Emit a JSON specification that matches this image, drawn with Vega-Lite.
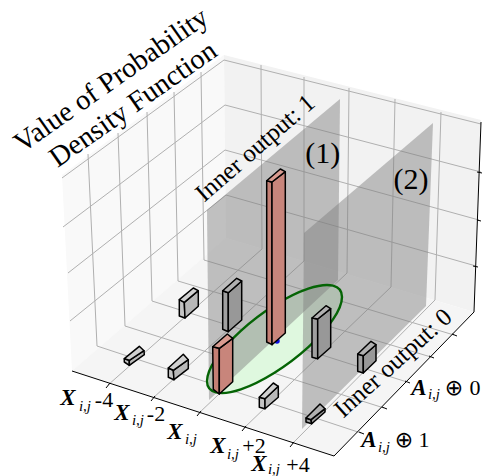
{"$schema":"https://vega.github.io/schema/vega-lite/v6.json","width":482,"height":476,"padding":0,"autosize":{"type":"none"},"background":"white","config":{"view":{"stroke":null}},
"datasets":{
"panes":[{"s":"left","n":1,"u":62,"v":175},{"s":"left","n":2,"u":224,"v":55},{"s":"left","n":3,"u":226,"v":238},{"s":"left","n":4,"u":72,"v":371},
{"s":"right","n":1,"u":224,"v":55},{"s":"right","n":2,"u":481,"v":120},{"s":"right","n":3,"u":474,"v":312},{"s":"right","n":4,"u":226,"v":238},
{"s":"floor","n":1,"u":72,"v":371},{"s":"floor","n":2,"u":226,"v":238},{"s":"floor","n":3,"u":474,"v":312},{"s":"floor","n":4,"u":334,"v":456}],
"grid":[{"s":"g1","n":1,"u":62,"v":178},{"s":"g1","n":2,"u":224,"v":60},{"s":"g2","n":1,"u":63,"v":227},{"s":"g2","n":2,"u":225,"v":105},{"s":"g3","n":1,"u":68,"v":273},{"s":"g3","n":2,"u":225,"v":150},{"s":"g4","n":1,"u":70,"v":321},{"s":"g4","n":2,"u":226,"v":195},
{"s":"g5","n":1,"u":224,"v":60},{"s":"g5","n":2,"u":481,"v":124},{"s":"g6","n":1,"u":225,"v":105},{"s":"g6","n":2,"u":481,"v":172},{"s":"g7","n":1,"u":225,"v":150},{"s":"g7","n":2,"u":479,"v":220},{"s":"g8","n":1,"u":226,"v":195},{"s":"g8","n":2,"u":476,"v":266},
{"s":"l1","n":1,"u":88,"v":154},{"s":"l1","n":2,"u":97,"v":346},{"s":"l2","n":1,"u":118,"v":133},{"s":"l2","n":2,"u":125,"v":326},{"s":"l3","n":1,"u":147,"v":112},{"s":"l3","n":2,"u":152,"v":301},{"s":"l4","n":1,"u":174,"v":92},{"s":"l4","n":2,"u":178,"v":281},{"s":"l5","n":1,"u":201,"v":72},{"s":"l5","n":2,"u":204,"v":260},
{"s":"r1","n":1,"u":261,"v":65},{"s":"r1","n":2,"u":262,"v":249},{"s":"r2","n":1,"u":304,"v":77},{"s":"r2","n":2,"u":304,"v":261},{"s":"r3","n":1,"u":349,"v":88},{"s":"r3","n":2,"u":347,"v":273},{"s":"r4","n":1,"u":395,"v":99},{"s":"r4","n":2,"u":391,"v":287},{"s":"r5","n":1,"u":441,"v":112},{"s":"r5","n":2,"u":435,"v":300},
{"s":"f1","n":1,"u":97,"v":346},{"s":"f1","n":2,"u":361,"v":433},{"s":"f2","n":1,"u":125,"v":326},{"s":"f2","n":2,"u":384,"v":408},{"s":"f3","n":1,"u":152,"v":301},{"s":"f3","n":2,"u":407,"v":382},{"s":"f4","n":1,"u":178,"v":281},{"s":"f4","n":2,"u":431,"v":357},{"s":"f5","n":1,"u":204,"v":260},{"s":"f5","n":2,"u":454,"v":335},
{"s":"h1","n":1,"u":108,"v":385},{"s":"h1","n":2,"u":262,"v":249},{"s":"h2","n":1,"u":153,"v":398},{"s":"h2","n":2,"u":304,"v":261},{"s":"h3","n":1,"u":199,"v":413},{"s":"h3","n":2,"u":347,"v":273},{"s":"h4","n":1,"u":244,"v":428},{"s":"h4","n":2,"u":391,"v":287},{"s":"h5","n":1,"u":292,"v":444},{"s":"h5","n":2,"u":435,"v":300}],
"axes":[{"s":"a1","n":1,"u":72,"v":371},{"s":"a1","n":2,"u":334,"v":456},{"s":"a1","n":3,"u":474,"v":312},{"s":"a1","n":4,"u":481,"v":122},
{"s":"t1","n":1,"u":110,"v":383},{"s":"t1","n":2,"u":106,"v":388},{"s":"t2","n":1,"u":155,"v":396},{"s":"t2","n":2,"u":151,"v":401},{"s":"t3","n":1,"u":201,"v":411},{"s":"t3","n":2,"u":197,"v":416},{"s":"t4","n":1,"u":246,"v":426},{"s":"t4","n":2,"u":242,"v":431},{"s":"t5","n":1,"u":294,"v":442},{"s":"t5","n":2,"u":290,"v":447},
{"s":"t6","n":1,"u":359,"v":432},{"s":"t6","n":2,"u":364,"v":434},{"s":"t7","n":1,"u":382,"v":407},{"s":"t7","n":2,"u":387,"v":409},{"s":"t8","n":1,"u":405,"v":381},{"s":"t8","n":2,"u":410,"v":383},{"s":"t9","n":1,"u":429,"v":356},{"s":"t9","n":2,"u":434,"v":358},{"s":"t10","n":1,"u":452,"v":334},{"s":"t10","n":2,"u":457,"v":336},
{"s":"t11","n":1,"u":477,"v":172},{"s":"t11","n":2,"u":482,"v":173},{"s":"t12","n":1,"u":477,"v":220},{"s":"t12","n":2,"u":481,"v":221},{"s":"t13","n":1,"u":473,"v":266},{"s":"t13","n":2,"u":478,"v":267}],
"planes":[{"s":"p1","n":1,"u":207,"v":210},{"s":"p1","n":2,"u":340,"v":99},{"s":"p1","n":3,"u":338,"v":280},{"s":"p1","n":4,"u":209,"v":400},
{"s":"p2","n":1,"u":304,"v":233},{"s":"p2","n":2,"u":433,"v":123},{"s":"p2","n":3,"u":426,"v":306},{"s":"p2","n":4,"u":302,"v":429}],
"ellipse":[{"n":1,"u":342,"v":296.9},{"n":2,"u":333,"v":319.4},{"n":3,"u":308.3,"v":347.2},{"n":4,"u":274.5,"v":372.8},{"n":5,"u":240.8,"v":389.4},{"n":6,"u":216,"v":392.4},{"n":7,"u":207,"v":381.1},{"n":8,"u":216,"v":358.6},{"n":9,"u":240.8,"v":330.8},{"n":10,"u":274.5,"v":305.2},{"n":11,"u":308.3,"v":288.6},{"n":12,"u":333,"v":285.6}],
"center":[{"u":277,"v":341}],
"bars":[
{"s":"A1","p":"lightLeft","n":1,"u":124.3,"v":358.7},{"s":"A1","p":"lightLeft","n":2,"u":129.3,"v":360.3},{"s":"A1","p":"lightLeft","n":3,"u":129.3,"v":365.3},{"s":"A1","p":"lightLeft","n":4,"u":124.3,"v":362},
{"s":"A2","p":"lightRight","n":1,"u":129.3,"v":360.3},{"s":"A2","p":"lightRight","n":2,"u":144,"v":350.7},{"s":"A2","p":"lightRight","n":3,"u":144.3,"v":354.7},{"s":"A2","p":"lightRight","n":4,"u":129.3,"v":365.3},
{"s":"A3","p":"lightTop","n":1,"u":124.3,"v":358.7},{"s":"A3","p":"lightTop","n":2,"u":129.3,"v":360.3},{"s":"A3","p":"lightTop","n":3,"u":144,"v":350.7},{"s":"A3","p":"lightTop","n":4,"u":139.3,"v":346.3},
{"s":"B1","p":"lightLeft","n":1,"u":168.3,"v":368},{"s":"B1","p":"lightLeft","n":2,"u":173.3,"v":370.3},{"s":"B1","p":"lightLeft","n":3,"u":174,"v":379.7},{"s":"B1","p":"lightLeft","n":4,"u":168.3,"v":377.3},
{"s":"B2","p":"lightRight","n":1,"u":173.3,"v":370.3},{"s":"B2","p":"lightRight","n":2,"u":188.3,"v":359.7},{"s":"B2","p":"lightRight","n":3,"u":188.3,"v":368.7},{"s":"B2","p":"lightRight","n":4,"u":174,"v":379.7},
{"s":"B3","p":"lightTop","n":1,"u":168.3,"v":368},{"s":"B3","p":"lightTop","n":2,"u":173.3,"v":370.3},{"s":"B3","p":"lightTop","n":3,"u":188.3,"v":359.7},{"s":"B3","p":"lightTop","n":4,"u":183.3,"v":354.3},
{"s":"C1","p":"lightLeft","n":1,"u":179.3,"v":299.7},{"s":"C1","p":"lightLeft","n":2,"u":184.3,"v":302.3},{"s":"C1","p":"lightLeft","n":3,"u":185,"v":318},{"s":"C1","p":"lightLeft","n":4,"u":179.3,"v":316},
{"s":"C2","p":"lightRight","n":1,"u":184.3,"v":302.3},{"s":"C2","p":"lightRight","n":2,"u":198.3,"v":290.7},{"s":"C2","p":"lightRight","n":3,"u":198.3,"v":306.3},{"s":"C2","p":"lightRight","n":4,"u":185,"v":318},
{"s":"C3","p":"lightTop","n":1,"u":179.3,"v":299.7},{"s":"C3","p":"lightTop","n":2,"u":184.3,"v":302.3},{"s":"C3","p":"lightTop","n":3,"u":198.3,"v":290.7},{"s":"C3","p":"lightTop","n":4,"u":193.3,"v":288},
{"s":"D1","p":"darkLeft","n":1,"u":222.7,"v":290.7},{"s":"D1","p":"darkLeft","n":2,"u":228.3,"v":292.7},{"s":"D1","p":"darkLeft","n":3,"u":228.3,"v":331.7},{"s":"D1","p":"darkLeft","n":4,"u":222.7,"v":329.3},
{"s":"D2","p":"darkRight","n":1,"u":228.3,"v":292.7},{"s":"D2","p":"darkRight","n":2,"u":241.7,"v":281},{"s":"D2","p":"darkRight","n":3,"u":241.7,"v":320},{"s":"D2","p":"darkRight","n":4,"u":228.3,"v":331.7},
{"s":"D3","p":"darkTop","n":1,"u":222.7,"v":290.7},{"s":"D3","p":"darkTop","n":2,"u":228.3,"v":292.7},{"s":"D3","p":"darkTop","n":3,"u":241.7,"v":281},{"s":"D3","p":"darkTop","n":4,"u":236.7,"v":278.3},
{"s":"E1","p":"redLeft","n":1,"u":212.7,"v":346.7},{"s":"E1","p":"redLeft","n":2,"u":219.3,"v":348.3},{"s":"E1","p":"redLeft","n":3,"u":219.3,"v":394},{"s":"E1","p":"redLeft","n":4,"u":213.3,"v":389.3},
{"s":"E2","p":"redRight","n":1,"u":219.3,"v":348.3},{"s":"E2","p":"redRight","n":2,"u":232.7,"v":338.3},{"s":"E2","p":"redRight","n":3,"u":232.7,"v":381.7},{"s":"E2","p":"redRight","n":4,"u":219.3,"v":394},
{"s":"E3","p":"redTop","n":1,"u":212.7,"v":346.7},{"s":"E3","p":"redTop","n":2,"u":219.3,"v":348.3},{"s":"E3","p":"redTop","n":3,"u":232.7,"v":338.3},{"s":"E3","p":"redTop","n":4,"u":227.3,"v":334},
{"s":"F1","p":"redLeft","n":1,"u":266.7,"v":180.7},{"s":"F1","p":"redLeft","n":2,"u":272,"v":182},{"s":"F1","p":"redLeft","n":3,"u":272,"v":344.7},{"s":"F1","p":"redLeft","n":4,"u":266.7,"v":342},
{"s":"F2","p":"redRight","n":1,"u":272,"v":182},{"s":"F2","p":"redRight","n":2,"u":285.3,"v":171.7},{"s":"F2","p":"redRight","n":3,"u":285.3,"v":333},{"s":"F2","p":"redRight","n":4,"u":272,"v":344.7},
{"s":"F3","p":"redTop","n":1,"u":266.7,"v":180.7},{"s":"F3","p":"redTop","n":2,"u":272,"v":182},{"s":"F3","p":"redTop","n":3,"u":285.3,"v":171.7},{"s":"F3","p":"redTop","n":4,"u":280.3,"v":169},
{"s":"G1","p":"darkLeft","n":1,"u":312,"v":318},{"s":"G1","p":"darkLeft","n":2,"u":317.7,"v":319},{"s":"G1","p":"darkLeft","n":3,"u":317.7,"v":358.7},{"s":"G1","p":"darkLeft","n":4,"u":312,"v":357.3},
{"s":"G2","p":"darkRight","n":1,"u":317.7,"v":319},{"s":"G2","p":"darkRight","n":2,"u":330.7,"v":308.7},{"s":"G2","p":"darkRight","n":3,"u":330.7,"v":347.3},{"s":"G2","p":"darkRight","n":4,"u":317.7,"v":358.7},
{"s":"G3","p":"darkTop","n":1,"u":312,"v":318},{"s":"G3","p":"darkTop","n":2,"u":317.7,"v":319},{"s":"G3","p":"darkTop","n":3,"u":330.7,"v":308.7},{"s":"G3","p":"darkTop","n":4,"u":326,"v":305.7},
{"s":"H1","p":"darkLeft","n":1,"u":357.7,"v":354},{"s":"H1","p":"darkLeft","n":2,"u":363.3,"v":355.7},{"s":"H1","p":"darkLeft","n":3,"u":363.3,"v":373},{"s":"H1","p":"darkLeft","n":4,"u":357.7,"v":371.3},
{"s":"H2","p":"darkRight","n":1,"u":363.3,"v":355.7},{"s":"H2","p":"darkRight","n":2,"u":376,"v":344.7},{"s":"H2","p":"darkRight","n":3,"u":376,"v":360.7},{"s":"H2","p":"darkRight","n":4,"u":363.3,"v":373},
{"s":"H3","p":"darkTop","n":1,"u":357.7,"v":354},{"s":"H3","p":"darkTop","n":2,"u":363.3,"v":355.7},{"s":"H3","p":"darkTop","n":3,"u":376,"v":344.7},{"s":"H3","p":"darkTop","n":4,"u":371,"v":341.3},
{"s":"I1","p":"lightLeft","n":1,"u":259.3,"v":397.3},{"s":"I1","p":"lightLeft","n":2,"u":265,"v":398.7},{"s":"I1","p":"lightLeft","n":3,"u":265,"v":408.7},{"s":"I1","p":"lightLeft","n":4,"u":259.3,"v":407.3},
{"s":"I2","p":"lightRight","n":1,"u":265,"v":398.7},{"s":"I2","p":"lightRight","n":2,"u":278.3,"v":386.3},{"s":"I2","p":"lightRight","n":3,"u":278.3,"v":397.3},{"s":"I2","p":"lightRight","n":4,"u":265,"v":408.7},
{"s":"I3","p":"lightTop","n":1,"u":259.3,"v":397.3},{"s":"I3","p":"lightTop","n":2,"u":265,"v":398.7},{"s":"I3","p":"lightTop","n":3,"u":278.3,"v":386.3},{"s":"I3","p":"lightTop","n":4,"u":273.3,"v":383},
{"s":"J1","p":"darkLeft","n":1,"u":306,"v":418},{"s":"J1","p":"darkLeft","n":2,"u":311,"v":419.7},{"s":"J1","p":"darkLeft","n":3,"u":311.7,"v":423.7},{"s":"J1","p":"darkLeft","n":4,"u":306,"v":422},
{"s":"J2","p":"darkRight","n":1,"u":311,"v":419.7},{"s":"J2","p":"darkRight","n":2,"u":325,"v":408.7},{"s":"J2","p":"darkRight","n":3,"u":325,"v":412},{"s":"J2","p":"darkRight","n":4,"u":311.7,"v":423.7},
{"s":"J3","p":"darkTop","n":1,"u":306,"v":418},{"s":"J3","p":"darkTop","n":2,"u":311,"v":419.7},{"s":"J3","p":"darkTop","n":3,"u":325,"v":408.7},{"s":"J3","p":"darkTop","n":4,"u":320,"v":404}],
"bigX":[{"t":"X","u":68,"v":398},{"t":"X","u":122,"v":413},{"t":"X","u":175,"v":432},{"t":"X","u":218,"v":446},{"t":"X","u":259,"v":464},{"t":"A","u":369,"v":440},{"t":"A","u":419,"v":388}],
"subs":[{"t":"i,j","u":85,"v":406},{"t":"i,j","u":138,"v":420},{"t":"i,j","u":191,"v":439},{"t":"i,j","u":233,"v":454},{"t":"i,j","u":274,"v":469},{"t":"i,j","u":384,"v":447},{"t":"i,j","u":434,"v":394}],
"nums":[{"t":"-4","u":104,"v":400},{"t":"-2","u":156,"v":414},{"t":"+2","u":254,"v":446},{"t":"+4","u":298,"v":465},{"t":"1","u":424,"v":440},{"t":"0","u":475,"v":388}],
"oplus":[{"t":"⊕","u":404,"v":440},{"t":"⊕","u":454,"v":388}],
"marks":[{"t":"(1)","u":322.7,"v":154},{"t":"(2)","u":411,"v":180}]
},
"layer":[
{"data":{"name":"panes"},"mark":{"type":"line","interpolate":"linear-closed","strokeWidth":0},"encoding":{"x":{"field":"u","type":"quantitative","scale":{"domain":[0,482],"nice":false,"zero":false},"axis":null},"y":{"field":"v","type":"quantitative","scale":{"domain":[476,0],"nice":false,"zero":false},"axis":null},"order":{"field":"n"},"detail":{"field":"s"},"fill":{"field":"s","type":"nominal","scale":{"domain":["left","right","floor"],"range":["#f9f9f9","#f2f2f2","#f5f5f5"]},"legend":null}}},
{"data":{"name":"grid"},"mark":{"type":"line","stroke":"#b0b0b0","strokeWidth":1},"encoding":{"x":{"field":"u","type":"quantitative"},"y":{"field":"v","type":"quantitative"},"order":{"field":"n"},"detail":{"field":"s"}}},
{"data":{"name":"axes"},"mark":{"type":"line","stroke":"#000000","strokeWidth":1},"encoding":{"x":{"field":"u","type":"quantitative"},"y":{"field":"v","type":"quantitative"},"order":{"field":"n"},"detail":{"field":"s"}}},
{"data":{"name":"ellipse"},"mark":{"type":"line","interpolate":"cardinal-closed","tension":0,"fill":"#dff8df","strokeWidth":0},"encoding":{"x":{"field":"u","type":"quantitative"},"y":{"field":"v","type":"quantitative"},"order":{"field":"n"}}},
{"data":{"name":"planes"},"mark":{"type":"line","interpolate":"linear-closed","fill":"#808080","fillOpacity":0.47,"strokeWidth":0},"encoding":{"x":{"field":"u","type":"quantitative"},"y":{"field":"v","type":"quantitative"},"order":{"field":"n"},"detail":{"field":"s"}}},
{"data":{"name":"ellipse"},"mark":{"type":"line","interpolate":"cardinal-closed","tension":0,"stroke":"#056405","strokeWidth":2.4},"encoding":{"x":{"field":"u","type":"quantitative"},"y":{"field":"v","type":"quantitative"},"order":{"field":"n"}}},
{"data":{"name":"center"},"mark":{"type":"point","filled":true,"color":"#1010e0","size":30,"opacity":1},"encoding":{"x":{"field":"u","type":"quantitative"},"y":{"field":"v","type":"quantitative"}}},
{"data":{"name":"bars"},"mark":{"type":"line","interpolate":"linear-closed","stroke":"#000000","strokeWidth":1.5,"strokeJoin":"round"},"encoding":{"x":{"field":"u","type":"quantitative"},"y":{"field":"v","type":"quantitative"},"order":{"field":"n"},"detail":{"field":"s"},"fill":{"field":"p","type":"nominal","scale":{"domain":["lightLeft","lightRight","lightTop","darkLeft","darkRight","darkTop","redLeft","redRight","redTop"],"range":["#c4c4c4","#b8b8b8","#d0d0d0","#a0a0a0","#989898","#b0b0b0","#c47f74","#c8857b","#d99b90"]},"legend":null}}},
{"data":{"values":[{"t":"Value of Probability","u":111,"v":80}]},"mark":{"type":"text","font":"Liberation Serif","fontSize":28.5,"angle":-35,"align":"center","baseline":"middle"},"encoding":{"x":{"field":"u","type":"quantitative"},"y":{"field":"v","type":"quantitative"},"text":{"field":"t"}}},
{"data":{"values":[{"t":"Density Function","u":133,"v":104}]},"mark":{"type":"text","font":"Liberation Serif","fontSize":28.5,"angle":-35,"align":"center","baseline":"middle"},"encoding":{"x":{"field":"u","type":"quantitative"},"y":{"field":"v","type":"quantitative"},"text":{"field":"t"}}},
{"data":{"values":[{"t":"Inner output: 1","u":255,"v":148}]},"mark":{"type":"text","font":"Liberation Serif","fontSize":25,"angle":-41,"align":"center","baseline":"middle"},"encoding":{"x":{"field":"u","type":"quantitative"},"y":{"field":"v","type":"quantitative"},"text":{"field":"t"}}},
{"data":{"values":[{"t":"Inner output: 0","u":393,"v":363}]},"mark":{"type":"text","font":"Liberation Serif","fontSize":25,"angle":-42,"align":"center","baseline":"middle"},"encoding":{"x":{"field":"u","type":"quantitative"},"y":{"field":"v","type":"quantitative"},"text":{"field":"t"}}},
{"data":{"name":"marks"},"mark":{"type":"text","font":"Liberation Serif","fontSize":30,"align":"center","baseline":"middle"},"encoding":{"x":{"field":"u","type":"quantitative"},"y":{"field":"v","type":"quantitative"},"text":{"field":"t"}}},
{"data":{"name":"bigX"},"mark":{"type":"text","font":"Liberation Serif","fontStyle":"italic","fontWeight":"bold","fontSize":23,"align":"center","baseline":"middle"},"encoding":{"x":{"field":"u","type":"quantitative"},"y":{"field":"v","type":"quantitative"},"text":{"field":"t"}}},
{"data":{"name":"subs"},"mark":{"type":"text","font":"Liberation Serif","fontStyle":"italic","fontSize":15,"align":"center","baseline":"middle"},"encoding":{"x":{"field":"u","type":"quantitative"},"y":{"field":"v","type":"quantitative"},"text":{"field":"t"}}},
{"data":{"name":"nums"},"mark":{"type":"text","font":"Liberation Serif","fontSize":22,"align":"center","baseline":"middle"},"encoding":{"x":{"field":"u","type":"quantitative"},"y":{"field":"v","type":"quantitative"},"text":{"field":"t"}}},
{"data":{"name":"oplus"},"mark":{"type":"text","font":"DejaVu Sans","fontSize":22,"align":"center","baseline":"middle"},"encoding":{"x":{"field":"u","type":"quantitative"},"y":{"field":"v","type":"quantitative"},"text":{"field":"t"}}}
],
"resolve":{"scale":{"fill":"independent"}}}
